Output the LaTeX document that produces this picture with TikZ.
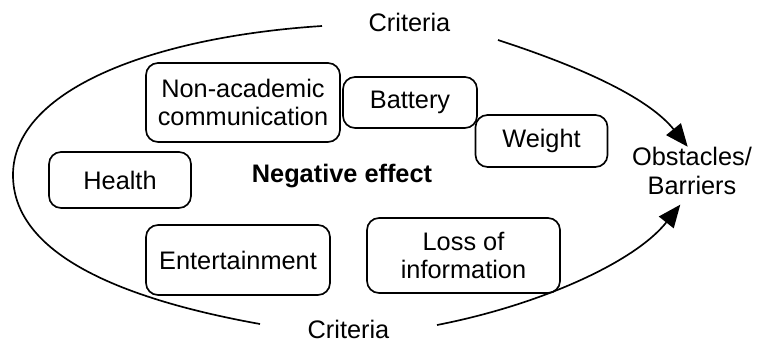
\documentclass[tikz,border=0pt]{standalone}
\usepackage{fontspec}
\setmainfont{Liberation Sans}
\usepackage{tikz}
\usetikzlibrary{arrows.meta}
\tikzset{effect/.style={draw, rounded corners=9pt, align=center, inner sep=0pt, line width=1.25pt},
  curved arrow/.style={line width=1.25pt, -{Triangle[length=17pt, width=14pt]}}
}

\begin{document}
\begin{tikzpicture}[x=0.75pt, y=-0.75pt, font=\fontsize{19}{20.5}\selectfont]
            \useasboundingbox (0,0) rectangle (761,342);
            \node [anchor=base] (C1) at (409.5,32) {Criteria};
            \node [anchor=base, inner sep=1pt] (C2) at (348.5,338) {Criteria};
            \node [anchor=base, font=\fontsize{19}{20.5}\selectfont\bfseries] (NE) at (342,183) {Negative effect};

            \node [effect, minimum width=145.5pt, minimum height=59.25pt] (NA) at (243,102.5) {Non-academic \\ communication};
            \node [effect, minimum width=100.5pt, minimum height=38.25pt] (BA) at (410,102.5) {Battery};
            \node [effect, minimum width=99pt, minimum height=39pt] (WE) at (541.5,141) {Weight};
            \node [effect, minimum width=106.5pt, minimum height=42pt] (HE) at (120,180) {Health};
            \node [effect, minimum width=138pt, minimum height=52.5pt] (EN) at (238,260) {Entertainment};
            \node [effect, minimum width=144.75pt, minimum height=56.25pt] (LI) at (463.5,255.5) {Loss of \\ information};

            \node [align=center, inner sep=0pt] (OB) at (692,171) {Obstacles/ \\[1.5pt] Barriers};

            % criteria loop round the effects
            \draw [line width=1.25pt] (322,26) .. controls (152,37) and (13,90) .. (13,175)
                .. controls (13,250) and (110,297) .. (260,324);

            \coordinate (S1) at (498,40);
            \coordinate (S2) at (437,325);
            \draw [curved arrow] (S1) .. controls (590,70) and (650,100) .. (OB.100);
            \draw [curved arrow, shorten >=9pt] (S2) .. controls (540,305) and (635,262) .. (OB.-100);
        \end{tikzpicture}
\end{document}
